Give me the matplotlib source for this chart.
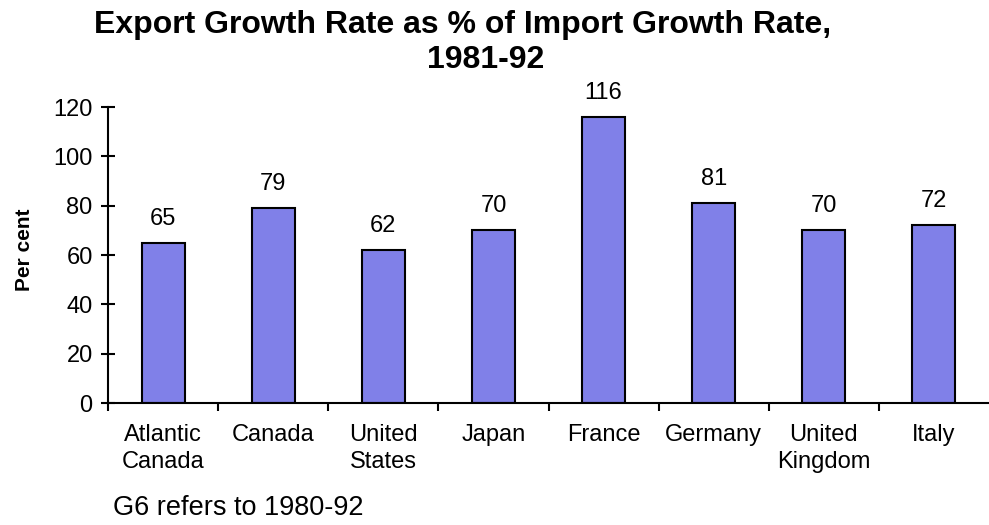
import matplotlib
matplotlib.use("Agg")
import matplotlib.pyplot as plt

categories = ["Atlantic\nCanada", "Canada", "United\nStates", "Japan", "France",
              "Germany", "United\nKingdom", "Italy"]
values = [65, 79, 62, 70, 116, 81, 70, 72]
yticks = [0, 20, 40, 60, 80, 100, 120]

plt.rcParams['font.family'] = ['Liberation Sans', 'DejaVu Sans']

fig = plt.figure(figsize=(9.89, 5.25), dpi=100)
ax = fig.add_axes([108/989, 1-403/525, 1-108/989, (403-107)/525])

x = list(range(len(categories)))
ax.bar(x, values, width=0.39, color='#8080E8', edgecolor='black', linewidth=1.5, zorder=2)
for xi, v in zip(x, values):
    ax.annotate(f"{v}", (xi, v), xytext=(0, 13), textcoords='offset points',
                ha='center', va='baseline', fontsize=17)

ax.set_xlim(-0.5, len(categories) - 0.5)
ax.set_ylim(0, 120)
ax.set_yticks(yticks)
ax.set_yticklabels([str(t) for t in yticks], fontsize=17)
ax.tick_params(axis='y', direction='inout', length=10, width=1.5, pad=6)

ax.set_xticks([i - 0.5 for i in range(len(categories))], minor=False)
ax.set_xticklabels([])
ax.set_xticks(x, minor=True)
ax.set_xticklabels(categories, minor=True, fontsize=17, linespacing=1.3, va='top')
ax.tick_params(axis='x', which='major', direction='out', length=6, width=1.5)
ax.tick_params(axis='x', which='minor', length=0, pad=15)

for s in ['top', 'right']:
    ax.spines[s].set_visible(False)
for s in ['left', 'bottom']:
    ax.spines[s].set_linewidth(1.5)

fig.text(24/989, 1-250/525, "Per cent", rotation=90, ha='center', va='center',
         fontsize=15, fontweight='bold')

fig.text(463/989, 1-33/525, "Export Growth Rate as % of Import Growth Rate,",
         ha='center', va='baseline', fontsize=23, fontweight='bold')
fig.text(486/989, 1-68/525, "1981-92", ha='center', va='baseline',
         fontsize=23, fontweight='bold')
fig.text(113/989, 1-515/525, "G6 refers to 1980-92", ha='left', va='baseline', fontsize=19.5)

fig.savefig("out.png", dpi=100)
